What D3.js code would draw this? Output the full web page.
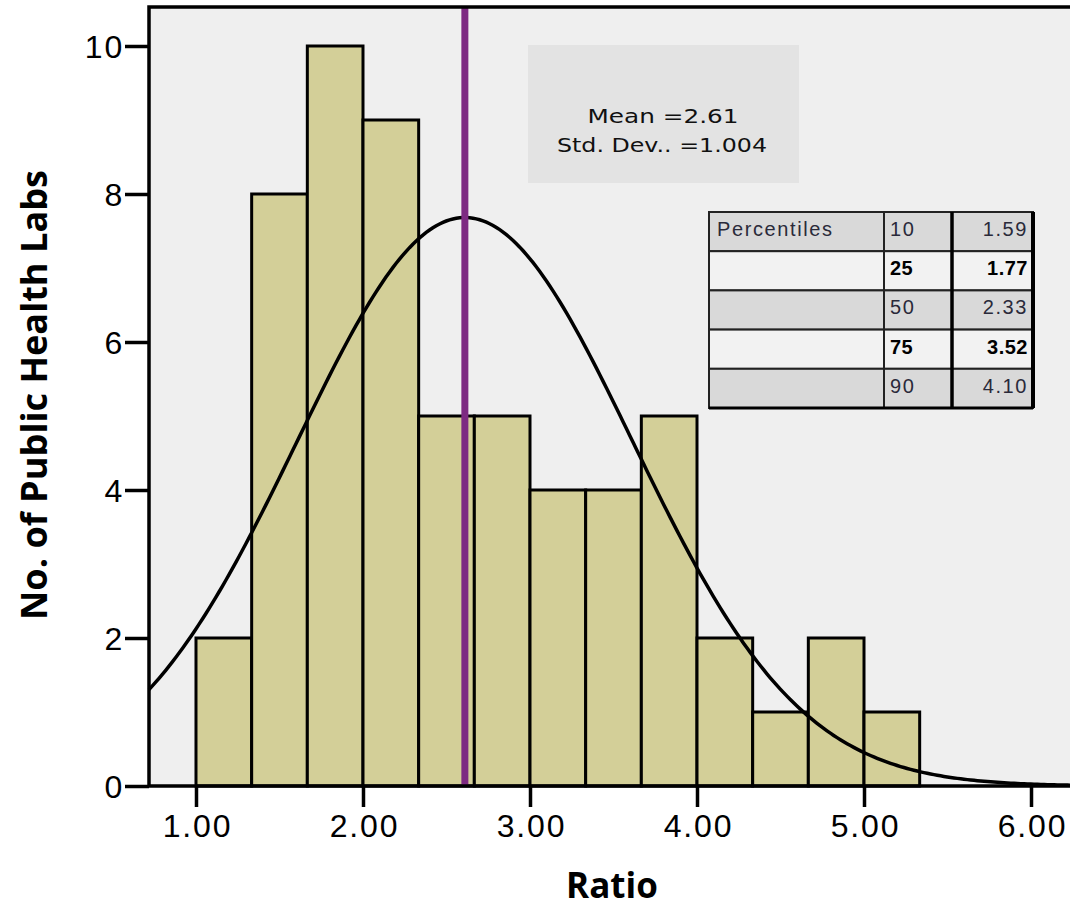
<!DOCTYPE html>
<html>
<head>
<meta charset="utf-8">
<script src="https://cdn.jsdelivr.net/npm/d3@7"></script>
<style>
  body { margin: 0; background: #fff; }
  svg { display: block; }
</style>
</head>
<body>
<svg id="chart" width="1070" height="907"></svg>
<script>
// Histogram bins (Ratio), width 1/3 starting at 1.00
const binStarts = [1.0, 4/3, 5/3, 2.0, 7/3, 8/3, 3.0, 10/3, 11/3, 4.0, 13/3, 14/3, 5.0];
const binWidth = 1/3;
const counts = [2, 8, 10, 9, 5, 5, 4, 4, 5, 2, 1, 2, 1];

const MEAN = 2.61;
const SD = 1.004;

const xTicks = [1, 2, 3, 4, 5, 6];
const yTicks = [0, 2, 4, 6, 8, 10];

const pctRows = [
  { label: 'Percentiles', p: '10', v: '1.59', bold: false },
  { label: '', p: '25', v: '1.77', bold: true },
  { label: '', p: '50', v: '2.33', bold: false },
  { label: '', p: '75', v: '3.52', bold: true },
  { label: '', p: '90', v: '4.10', bold: false },
];

const svg = d3.select('#chart');
const L = 149, R = 1070, T = 7, B = 786;

// 167px per unit on x, 74px per unit on y
const x = d3.scaleLinear().domain([0.7186, 6.2335]).range([L, R]);
const y = d3.scaleLinear().domain([0, 10.527]).range([B, T]);

// plot background
svg.append('rect')
  .attr('x', L).attr('y', T)
  .attr('width', R - L).attr('height', B - T)
  .attr('fill', '#efefef');

// bars
svg.selectAll('.bar').data(counts)
  .enter().append('rect')
  .classed('bar', true)
  .attr('x', (d, i) => x(binStarts[i]))
  .attr('y', d => y(d))
  .attr('width', (d, i) => x(binStarts[i] + binWidth) - x(binStarts[i]))
  .attr('height', d => y(0) - y(d))
  .attr('fill', '#d3cf98')
  .attr('stroke', '#000')
  .attr('stroke-width', 3);

// normal curve fitted to the histogram
const N = d3.sum(counts);
const pdf = v => Math.exp(-0.5 * Math.pow((v - MEAN) / SD, 2)) / (SD * Math.sqrt(2 * Math.PI));
const xs = d3.range(x.domain()[0], x.domain()[1], 0.02).concat([x.domain()[1]]);
svg.append('path')
  .datum(xs)
  .attr('d', d3.line().x(v => x(v)).y(v => y(N * binWidth * pdf(v))))
  .attr('fill', 'none')
  .attr('stroke', '#000')
  .attr('stroke-width', 3.5);

// mean line
svg.append('line')
  .attr('x1', x(MEAN)).attr('x2', x(MEAN))
  .attr('y1', T).attr('y2', B)
  .attr('stroke', '#7d2a82')
  .attr('stroke-width', 7);

// frame
svg.append('path')
  .attr('d', `M${R},${T}H${L}V${B}H${R}`)
  .attr('fill', 'none')
  .attr('stroke', '#000')
  .attr('stroke-width', 3.5);

// axes
const yAxis = svg.append('g')
  .attr('transform', `translate(${L},0)`)
  .call(d3.axisLeft(y).tickValues(yTicks).tickSize(24).tickPadding(1).tickFormat(d3.format('d')));
const xAxis = svg.append('g')
  .attr('transform', `translate(0,${B})`)
  .call(d3.axisBottom(x).tickValues(xTicks).tickSize(21).tickPadding(7).tickFormat(d3.format('.2f')));
[yAxis, xAxis].forEach(ax => {
  ax.select('.domain').remove();
  ax.selectAll('.tick line').attr('stroke', '#000').attr('stroke-width', 3.5);
  ax.selectAll('.tick text')
    .attr('fill', '#000')
    .style('font-family', '"Liberation Sans", Arial, sans-serif')
    .style('font-size', '32px')
    .style('letter-spacing', '1.8px');
});
yAxis.selectAll('.tick text').attr('dy', '0.36em');
xAxis.selectAll('.tick text').attr('dx', '1px');

// axis titles
svg.append('text')
  .attr('transform', `translate(47,${395}) rotate(-90)`)
  .attr('text-anchor', 'middle')
  .style('font-family', '"Open Sans", sans-serif')
  .style('font-weight', 'bold')
  .style('font-size', '36px')
  .attr('textLength', 450)
  .attr('lengthAdjust', 'spacingAndGlyphs')
  .text('No. of Public Health Labs');
svg.append('text')
  .attr('x', 612).attr('y', 898)
  .attr('text-anchor', 'middle')
  .style('font-family', '"Open Sans", sans-serif')
  .style('font-weight', 'bold')
  .style('font-size', '35px')
  .text('Ratio');

// mean / sd box
svg.append('rect')
  .attr('x', 528).attr('y', 45)
  .attr('width', 271).attr('height', 138)
  .attr('fill', '#e3e3e3');
const stat = svg.append('text')
  .attr('text-anchor', 'middle')
  .style('font-family', '"DejaVu Sans", sans-serif')
  .style('font-size', '20px')
  .attr('fill', '#111');
stat.append('tspan').attr('x', 663).attr('y', 123)
  .attr('textLength', 151).attr('lengthAdjust', 'spacingAndGlyphs')
  .text(`Mean =${MEAN.toFixed(2)}`);
stat.append('tspan').attr('x', 662).attr('y', 152)
  .attr('textLength', 210).attr('lengthAdjust', 'spacingAndGlyphs')
  .text(`Std. Dev.. =${SD.toFixed(3)}`);

// percentiles table
const tbl = svg.append('g');
const tX = 709, tW = 324, rowH = 39.2, tY = 212;
const colA = 884, colB = 952;
pctRows.forEach((r, i) => {
  const ry = tY + i * rowH;
  tbl.append('rect')
    .attr('x', tX).attr('y', ry).attr('width', tW).attr('height', rowH)
    .attr('fill', r.bold ? '#f2f2f2' : '#d9d9d9')
    .attr('stroke', '#222').attr('stroke-width', 2);
  const style = s => s
    .style('font-family', '"Liberation Sans", Arial, sans-serif')
    .style('font-size', '20px')
    .style('font-weight', r.bold ? 'bold' : 'normal')
    .style('letter-spacing', r.bold ? '0.5px' : '1.6px')
    .attr('fill', r.bold ? '#000' : '#2a2a3a');
  if (r.label) {
    tbl.append('text').attr('x', 717).attr('y', ry + 24).text(r.label).call(style);
  }
  tbl.append('text').attr('x', 890).attr('y', ry + 24).text(r.p).call(style);
  tbl.append('text').attr('x', 1028).attr('y', ry + 24)
    .attr('text-anchor', 'end').text(r.v).call(style);
});
tbl.append('line').attr('x1', colA).attr('x2', colA)
  .attr('y1', tY).attr('y2', tY + 5 * rowH).attr('stroke', '#222').attr('stroke-width', 2);
tbl.append('line').attr('x1', colB).attr('x2', colB)
  .attr('y1', tY).attr('y2', tY + 5 * rowH).attr('stroke', '#000').attr('stroke-width', 3.5);
tbl.append('line').attr('x1', tX + tW).attr('x2', tX + tW)
  .attr('y1', tY).attr('y2', tY + 5 * rowH).attr('stroke', '#000').attr('stroke-width', 4);
tbl.append('line').attr('x1', tX).attr('x2', tX + tW)
  .attr('y1', tY + 5 * rowH).attr('y2', tY + 5 * rowH).attr('stroke', '#000').attr('stroke-width', 3);
</script>
</body>
</html>
